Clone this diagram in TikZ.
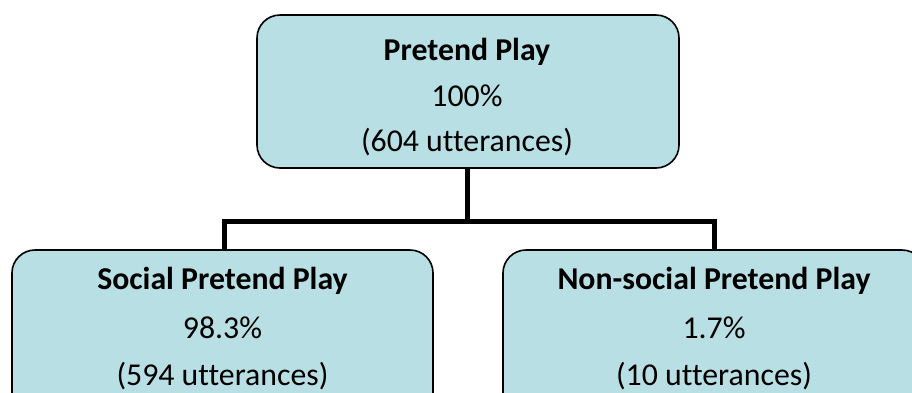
\documentclass[tikz,border=0pt]{standalone}
\usepackage{fontspec}
\setmainfont{Carlito}[Ligatures=NoCommon]
\definecolor{boxfill}{RGB}{184,223,227}
\tikzset{
  box/.style={draw=black, line width=1.6pt, fill=boxfill, rounded corners=23pt, inner sep=0pt},
  txt/.style={anchor=base, inner sep=0pt, font=\fontsize{31.8}{36}\selectfont},
  ttl/.style={txt, font=\fontsize{31.8}{36}\selectfont\bfseries},
  conn/.style={draw=black, line width=5pt}
}
\begin{document}
\begin{tikzpicture}[x=1pt, y=-1pt]
\useasboundingbox (0,0) rectangle (912,392);
\clip (0,0) rectangle (912,392);
% boxes
\node[box, minimum width=422pt, minimum height=153pt] (top) at (468,91.5) {};
\node[box, minimum width=421pt, minimum height=180pt] (left) at (222.5,340) {};
\node[box, minimum width=422pt, minimum height=180pt] (right) at (714,340) {};
% connectors
\coordinate (mid) at (467,221);
\coordinate (lt) at (224,221);
\coordinate (rt) at (714,221);
\draw[conn] (top.south -| mid) -- (mid);
\draw[conn, line cap=rect] (lt) -- (rt);
\draw[conn] (lt) -- (lt |- left.north);
\draw[conn] (rt) -- (rt |- right.north);
% texts
\node[ttl] (t1) at (467,60) {Pretend Play};
\node[txt] (t2) at (467,106) {100\%};
\node[txt] (t3) at (467,151) {(604 utterances)};
\node[ttl] (l1) at (222.5,289) {Social Pretend Play};
\node[txt] (l2) at (222.5,338) {98.3\%};
\node[txt] (l3) at (222.5,385) {(594 utterances)};
\node[ttl] (r1) at (714,289) {Non-social Pretend Play};
\node[txt] (r2) at (714,338) {1.7\%};
\node[txt] (r3) at (714,385) {(10 utterances)};
\end{tikzpicture}
\end{document}
